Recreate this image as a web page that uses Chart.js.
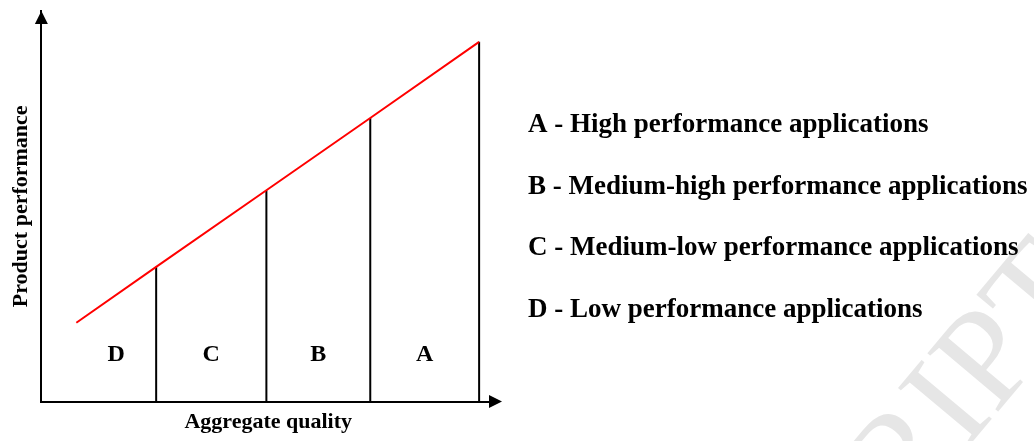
<!DOCTYPE html>
<html>
<head>
<meta charset="utf-8">
<script src="https://cdn.jsdelivr.net/npm/chart.js@4.4.1/dist/chart.umd.min.js"></script>
<style>
  html, body { margin: 0; padding: 0; background: #fff; }
  #wrap { width: 1034px; height: 441px; position: relative; }
</style>
</head>
<body>
<div id="wrap"><canvas id="chart"></canvas></div>
<script>
// values (axis units 0..100)
const zoneEdges = [7.7, 25.3, 49.6, 72.5, 96.5];     // aggregate quality: line start, then zone borders
const performance = [20.2, 34.5, 54.1, 72.6, 92.1];  // product performance at those points
const zoneLetters = ['D', 'C', 'B', 'A'];
const legendLines = [
  'A - High performance applications',
  'B - Medium-high performance applications',
  'C - Medium-low performance applications',
  'D - Low performance applications'
];
const xTitle = 'Aggregate quality';
const yTitle = 'Product performance';

const serif = '"Liberation Serif", "Times New Roman", serif';

// one black vertical per zone border, up to the red line
const datasets = [];
for (let i = 1; i < zoneEdges.length; i++) {
  datasets.push({
    data: [{x: zoneEdges[i], y: 0}, {x: zoneEdges[i], y: performance[i]}],
    borderColor: '#000',
    borderWidth: 2,
    showLine: true,
    pointRadius: 0,
    order: 2
  });
}
datasets.push({
  data: zoneEdges.map((x, i) => ({x: x, y: performance[i]})),
  borderColor: '#ff0000',
  borderWidth: 2,
  showLine: true,
  pointRadius: 0,
  order: 1
});

const extras = {
  id: 'extras',
  beforeDraw(chart) {
    // faint watermark from the source document
    const ctx = chart.ctx;
    ctx.save();
    ctx.translate(1100, 290);
    ctx.rotate(-50 * Math.PI / 180);
    ctx.font = '140px ' + serif;
    ctx.fillStyle = '#e6e6e6';
    ctx.textAlign = 'right';
    ctx.textBaseline = 'alphabetic';
    ctx.fillText('ACCEPTED MANUSCRIPT', 0, 0);
    ctx.restore();
  },
  afterDraw(chart) {
    const ctx = chart.ctx;
    const a = chart.chartArea;
    const xs = chart.scales.x, ys = chart.scales.y;
    ctx.save();
    ctx.fillStyle = '#000';
    // arrow heads
    ctx.beginPath();
    ctx.moveTo(a.left, a.top);
    ctx.lineTo(a.left - 6.5, a.top + 13);
    ctx.lineTo(a.left + 6.5, a.top + 13);
    ctx.closePath();
    ctx.fill();
    ctx.beginPath();
    ctx.moveTo(a.right + 7, a.bottom);
    ctx.lineTo(a.right - 6, a.bottom - 6.5);
    ctx.lineTo(a.right - 6, a.bottom + 6.5);
    ctx.closePath();
    ctx.fill();

    // zone letters, centred between borders
    ctx.font = 'bold 24px ' + serif;
    ctx.textAlign = 'center';
    ctx.textBaseline = 'alphabetic';
    zoneLetters.forEach((t, i) => {
      const mid = (zoneEdges[i] + zoneEdges[i + 1]) / 2;
      ctx.fillText(t, xs.getPixelForValue(mid), ys.getPixelForValue(10.5));
    });

    // legend on the right
    ctx.font = 'bold 27px ' + serif;
    ctx.textAlign = 'left';
    legendLines.forEach((t, i) => {
      ctx.fillText(t, 528, 132 + i * 61.7);
    });
    ctx.restore();
  }
};

const titleFont = {family: serif, weight: 'bold', size: 22};

new Chart(document.getElementById('chart'), {
  type: 'scatter',
  data: {datasets: datasets},
  options: {
    responsive: true,
    maintainAspectRatio: false,
    animation: false,
    layout: {padding: {left: 8, top: 11, right: 539, bottom: 5}},
    plugins: {legend: {display: false}, tooltip: {enabled: false}},
    scales: {
      x: {
        type: 'linear', min: 0, max: 100,
        ticks: {display: false},
        grid: {display: false, drawTicks: false},
        border: {display: true, color: '#000', width: 2},
        title: {display: true, text: xTitle, color: '#000', font: titleFont, padding: {top: 8, bottom: 0}}
      },
      y: {
        type: 'linear', min: 0, max: 100,
        ticks: {display: false},
        grid: {display: false, drawTicks: false},
        border: {display: true, color: '#000', width: 2},
        title: {display: true, text: yTitle, color: '#000', font: titleFont, padding: {top: 0, bottom: 7}}
      }
    }
  },
  plugins: [extras]
});
</script>
</body>
</html>
